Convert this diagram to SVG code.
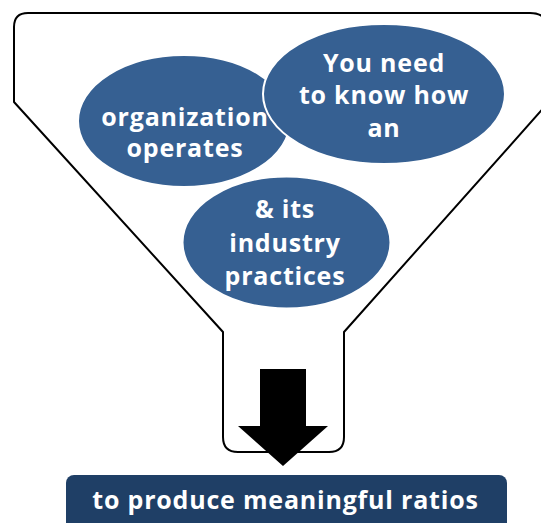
<svg xmlns="http://www.w3.org/2000/svg" width="541" height="523" viewBox="0 0 541 523">
<style>
.funnel{fill:#fff;stroke:#000;stroke-width:2;stroke-linejoin:round}
.bub{fill:#366092;stroke:#fff;stroke-width:2}
.t{font-family:"Open Sans","DejaVu Sans",sans-serif;font-weight:bold;fill:#fff;text-anchor:middle;font-size:25px;letter-spacing:0.8px}
</style>
<rect width="541" height="523" fill="#fff"/>
<g id="funnel">
<path class="funnel" d="M14,102 L14,27 Q14,13 28,13 L530,13 Q548,13 548,31 L548,103 L344,332 L344,437 Q344,452 329,452 L238,452 Q223,452 223,437 L223,332 Z"/>
</g>
<g id="node-organization">
<ellipse class="bub" cx="184" cy="121" rx="106" ry="66"/>
<text class="t" x="185" y="126">organization</text>
<text class="t" x="185" y="157">operates</text>
</g>
<g id="node-youneed">
<ellipse class="bub" cx="384" cy="94" rx="121" ry="70"/>
<text class="t" x="384" y="72">You need</text>
<text class="t" x="384" y="104">to know how</text>
<text class="t" x="384" y="137">an</text>
</g>
<g id="node-industry">
<ellipse class="bub" cx="286.5" cy="242.5" rx="104" ry="66"/>
<text class="t" x="285" y="218">&amp; its</text>
<text class="t" x="285" y="252">industry</text>
<text class="t" x="285" y="285">practices</text>
</g>
<g id="connectors">
<path d="M260,369 L306,369 L306,426 L328,426 L283,466 L238,426 L260,426 Z" fill="#000"/>
</g>
<g id="node-result">
<rect x="66" y="475" width="441" height="60" rx="8" fill="#1F3F66"/>
<text class="t" x="285.5" y="509">to produce meaningful ratios</text>
</g>
</svg>
